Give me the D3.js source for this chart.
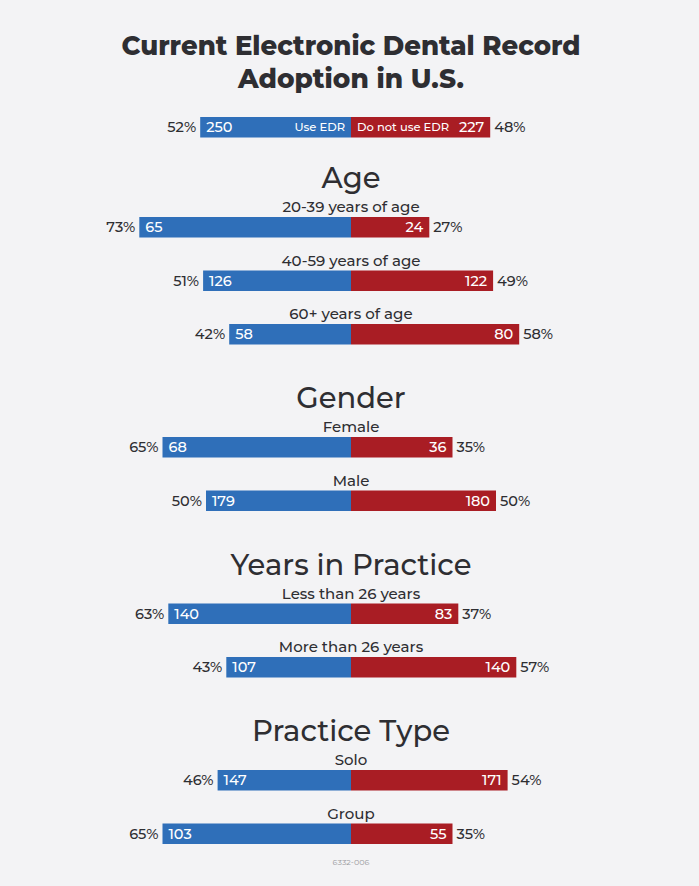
<!DOCTYPE html>
<html><head><meta charset="utf-8">
<script src="https://cdn.jsdelivr.net/npm/d3@7"></script>
<style>
html,body{margin:0;padding:0;background:#f3f3f5;}
svg{display:block;}
</style></head>
<body>
<script>
// ---- data ----
const titleLines = ["Current Electronic Dental Record", "Adoption in U.S."];
const overallUse = 250, overallNo = 227, overallUsePct = 52, overallNoPct = 48;
const seriesNames = ["Use EDR", "Do not use EDR"];

const sections = ["Age", "Gender", "Years in Practice", "Practice Type"];
const rowSection = [0, 0, 0, 1, 1, 2, 2, 3, 3];
const rowLabels = ["20-39 years of age", "40-59 years of age", "60+ years of age",
  "Female", "Male", "Less than 26 years", "More than 26 years", "Solo", "Group"];
const useCounts = [65, 126, 58, 68, 179, 140, 107, 147, 103];
const noCounts = [24, 122, 80, 36, 180, 83, 140, 171, 55];
const usePct = [73, 51, 42, 65, 50, 63, 43, 46, 65];
const noPct = [27, 49, 58, 35, 50, 37, 57, 54, 35];
const footnote = "6332-006";

// ---- layout ----
const W = 699, H = 886, cx = 351, barH = 20.5;
const BLUE = "#2f6fb9", RED = "#a91d24", TXT = "#2e2e32";
const FONT = "Montserrat, 'Open Sans', Lato, sans-serif";
const x = d3.scaleLinear().domain([0, 100]).range([0, 290]);

const svg = d3.select("body").append("svg").attr("width", W).attr("height", H);
svg.append("rect").attr("width", W).attr("height", H).attr("fill", "#f3f3f5");

// title
svg.selectAll("text.title").data(titleLines).join("text")
  .attr("class", "title")
  .attr("x", cx).attr("y", (d, i) => 55 + i * 33)
  .attr("text-anchor", "middle")
  .attr("font-family", FONT).attr("font-weight", 800)
  .attr("font-size", 27).attr("fill", TXT)
  .attr("textLength", (d, i) => i === 0 ? 459 : 226)
  .attr("lengthAdjust", "spacingAndGlyphs")
  .text(d => d);

function drawBar(g, yTop, uc, nc, up, np) {
  g.append("rect").attr("x", cx - x(up)).attr("y", yTop).attr("width", x(up)).attr("height", barH).attr("fill", BLUE);
  g.append("rect").attr("x", cx).attr("y", yTop).attr("width", x(np)).attr("height", barH).attr("fill", RED);
  const ty = yTop + barH / 2 + 5;
  g.append("text").attr("x", cx - x(up) + 6).attr("y", ty).attr("fill", "#fff")
    .attr("font-family", FONT).attr("font-size", 14.5).attr("font-weight", 500).text(uc);
  g.append("text").attr("x", cx + x(np) - 6).attr("y", ty).attr("fill", "#fff").attr("text-anchor", "end")
    .attr("font-family", FONT).attr("font-size", 14.5).attr("font-weight", 500).text(nc);
  g.append("text").attr("x", cx - x(up) - 4).attr("y", ty).attr("fill", TXT).attr("text-anchor", "end")
    .attr("font-family", FONT).attr("font-size", 14.5).attr("font-weight", 500).text(up + "%");
  g.append("text").attr("x", cx + x(np) + 4).attr("y", ty).attr("fill", TXT)
    .attr("font-family", FONT).attr("font-size", 14.5).attr("font-weight", 500).text(np + "%");
}

// overall bar
const top0 = 117;
const g0 = svg.append("g");
drawBar(g0, top0, overallUse, overallNo, overallUsePct, overallNoPct);
g0.append("text").attr("x", cx - 6).attr("y", top0 + barH / 2 + 4).attr("text-anchor", "end")
  .attr("fill", "#fff").attr("font-family", FONT).attr("font-size", 11.5).attr("font-weight", 500).text(seriesNames[0]);
g0.append("text").attr("x", cx + 6).attr("y", top0 + barH / 2 + 4)
  .attr("fill", "#fff").attr("font-family", FONT).attr("font-size", 11.5).attr("font-weight", 500).text(seriesNames[1]);

// sections
let headY = 188;
let yCursor;
sections.forEach((s, si) => {
  svg.append("text").attr("x", cx).attr("y", headY).attr("text-anchor", "middle")
    .attr("font-family", FONT).attr("font-size", 29).attr("font-weight", 500).attr("fill", TXT).text(s);
  yCursor = headY + 29;
  const rows = d3.range(rowLabels.length).filter(i => rowSection[i] === si);
  rows.forEach((i, k) => {
    const g = svg.append("g");
    g.append("text").attr("x", cx).attr("y", yCursor - 5).attr("text-anchor", "middle")
      .attr("font-family", FONT).attr("font-size", 15).attr("font-weight", 500).attr("fill", TXT).text(rowLabels[i]);
    drawBar(g, yCursor, useCounts[i], noCounts[i], usePct[i], noPct[i]);
    if (k < rows.length - 1) yCursor += 53.5;
  });
  headY = yCursor + 84;
});

svg.append("text").attr("x", cx).attr("y", 865).attr("text-anchor", "middle")
  .attr("font-family", FONT).attr("font-size", 8).attr("fill", "#9a9a9e").text(footnote);
</script>
</body></html>
